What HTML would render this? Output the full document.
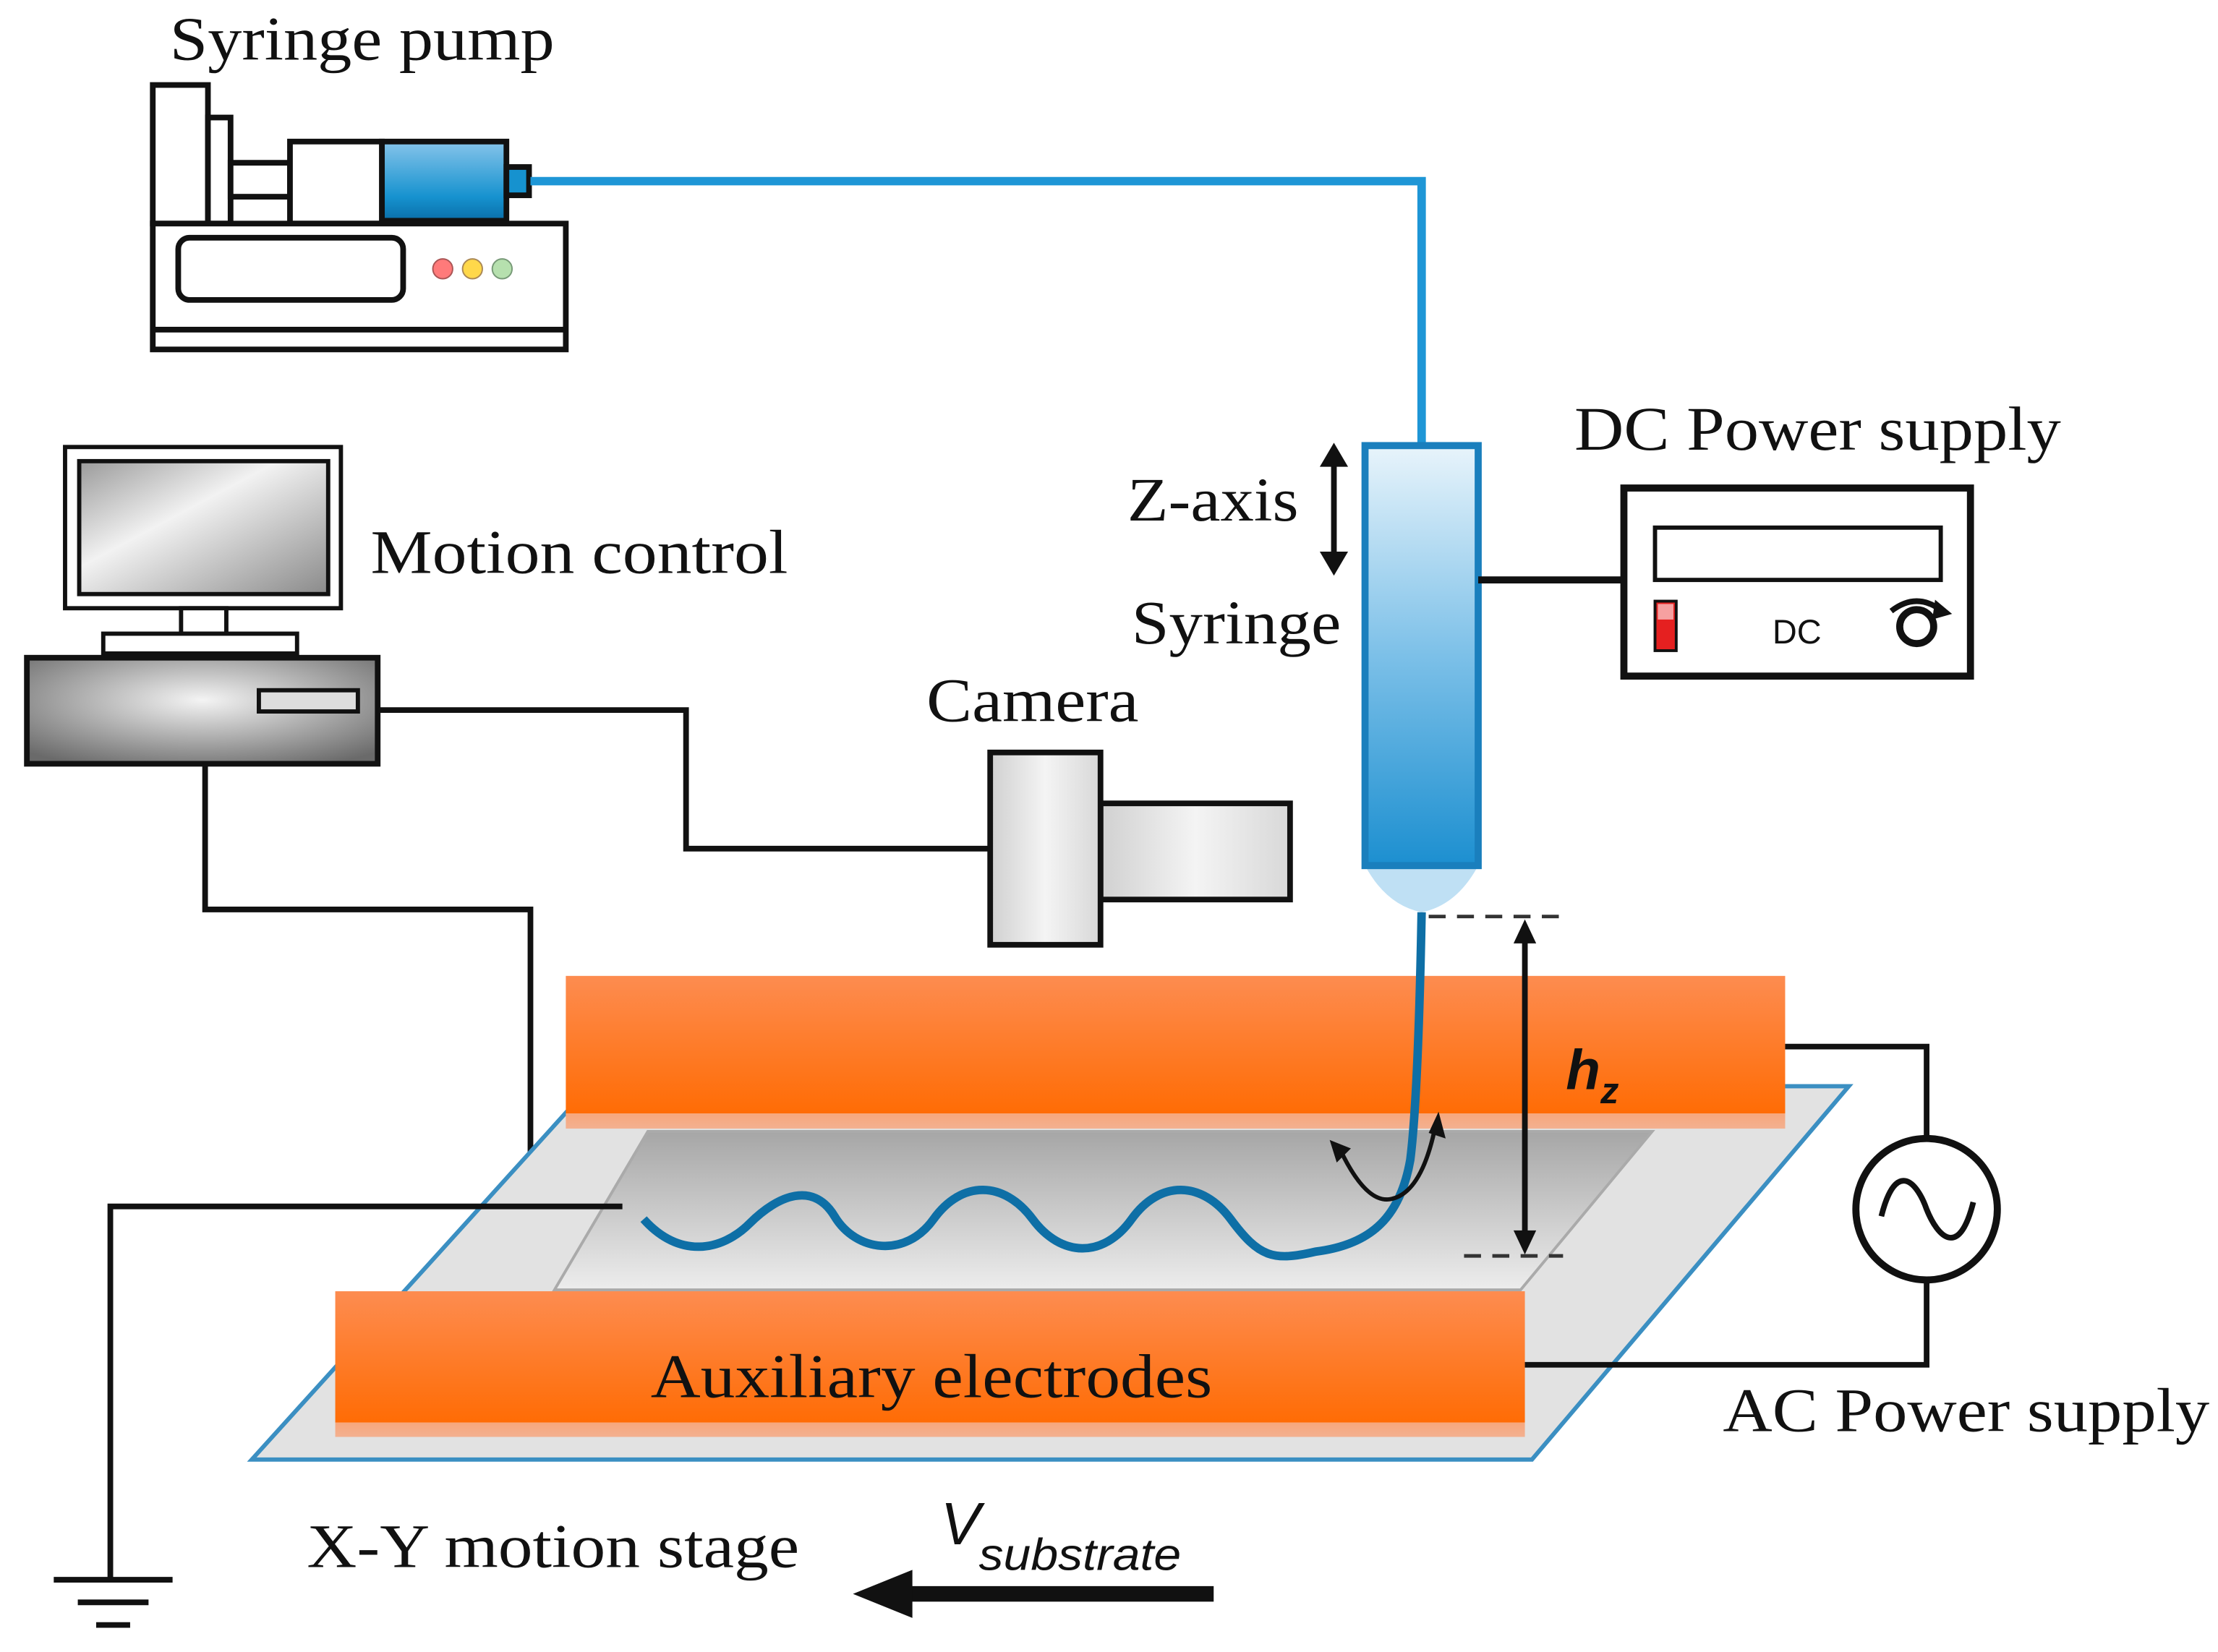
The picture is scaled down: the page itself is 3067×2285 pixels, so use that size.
<!DOCTYPE html>
<html><head><meta charset="utf-8"><style>html,body{margin:0;padding:0;background:#fff;}svg{display:block;}</style></head>
<body>
<svg width="3067" height="2285" viewBox="0 0 1568 1168" xmlns="http://www.w3.org/2000/svg">
<defs>
<linearGradient id="blu" x1="0" y1="0" x2="0" y2="1"><stop offset="0" stop-color="#86c4ea"/><stop offset="0.7" stop-color="#1692cf"/><stop offset="1" stop-color="#0a6ea8"/></linearGradient>
<linearGradient id="syr" x1="0" y1="0" x2="0" y2="1"><stop offset="0" stop-color="#e8f4fb"/><stop offset="0.5" stop-color="#7cc0e8"/><stop offset="1" stop-color="#1c8fd0"/></linearGradient>
<linearGradient id="org" x1="0" y1="0" x2="0" y2="1"><stop offset="0" stop-color="#fd8c50"/><stop offset="0.9" stop-color="#ff6c05"/><stop offset="0.9" stop-color="#f7a77c"/><stop offset="1" stop-color="#f3b090"/></linearGradient>
<linearGradient id="scr" x1="0" y1="0" x2="1" y2="1"><stop offset="0" stop-color="#9a9a9a"/><stop offset="0.4" stop-color="#f2f2f2"/><stop offset="1" stop-color="#8a8a8a"/></linearGradient>
<radialGradient id="cpu" cx="0.5" cy="0.4" r="0.7"><stop offset="0" stop-color="#f4f4f4"/><stop offset="1" stop-color="#6a6a6a"/></radialGradient>
<linearGradient id="sub" x1="0" y1="0" x2="0" y2="1"><stop offset="0" stop-color="#a6a6a6"/><stop offset="1" stop-color="#ededed"/></linearGradient>
<linearGradient id="cam" x1="0" y1="0" x2="1" y2="0"><stop offset="0" stop-color="#d0d0d0"/><stop offset="0.5" stop-color="#f4f4f4"/><stop offset="1" stop-color="#d8d8d8"/></linearGradient>
</defs>
<g font-family="Liberation Serif, serif" fill="#111" font-size="44" lengthAdjust="spacingAndGlyphs">
<text x="120" y="42" textLength="272" lengthAdjust="spacingAndGlyphs">Syringe pump</text>
<text x="262" y="405" textLength="295" lengthAdjust="spacingAndGlyphs">Motion control</text>
<text x="655" y="510" textLength="150" lengthAdjust="spacingAndGlyphs">Camera</text>
<text x="797" y="368" textLength="121" lengthAdjust="spacingAndGlyphs">Z-axis</text>
<text x="800" y="455" textLength="148" lengthAdjust="spacingAndGlyphs">Syringe</text>
<text x="1113" y="318" textLength="344" lengthAdjust="spacingAndGlyphs">DC Power supply</text>
<text x="1218" y="1012" textLength="344" lengthAdjust="spacingAndGlyphs">AC Power supply</text>
<text x="217" y="1108" textLength="348" lengthAdjust="spacingAndGlyphs">X-Y motion stage</text>
</g>
<!-- syringe pump -->
<g stroke="#111" stroke-width="4" fill="#fff">
<rect x="108" y="60" width="39" height="98"/>
<rect x="147" y="83" width="16" height="75"/>
<rect x="163" y="115" width="42" height="24"/>
<rect x="205" y="100" width="65" height="58"/>
<rect x="270" y="100" width="88" height="56" fill="url(#blu)"/>
<rect x="358" y="118" width="16" height="20" fill="#1692cf"/>
<rect x="108" y="158" width="292" height="89"/>
<line x1="108" y1="233" x2="400" y2="233"/>
<rect x="126" y="168" width="159" height="44" rx="8"/>
</g>
<circle cx="313" cy="190" r="7" fill="#ff7a7a" stroke="#a55" stroke-width="1"/>
<circle cx="334" cy="190" r="7" fill="#ffd84a" stroke="#a85" stroke-width="1"/>
<circle cx="355" cy="190" r="7" fill="#b6e0ae" stroke="#797" stroke-width="1"/>
<path d="M375,128 H1005 V315" fill="none" stroke="#1e96d6" stroke-width="6"/>
<!-- syringe -->
<path d="M965,612 H1045 Q1030,640 1005,645 Q980,640 965,612Z" fill="#bfe0f4"/>
<rect x="965" y="315" width="80" height="297" fill="url(#syr)" stroke="#1a7fbd" stroke-width="5"/>
<!-- z axis arrow -->
<line x1="943" y1="325" x2="943" y2="395" stroke="#111" stroke-width="4"/>
<path d="M933,330 L943,313 L953,330Z M933,390 L943,407 L953,390Z" fill="#111"/>
<!-- DC supply -->
<line x1="1045" y1="410" x2="1148" y2="410" stroke="#111" stroke-width="5"/>
<rect x="1148" y="345" width="245" height="133" fill="#fff" stroke="#111" stroke-width="5"/>
<rect x="1170" y="373" width="202" height="37" fill="#fff" stroke="#111" stroke-width="3"/>
<rect x="1170" y="425" width="15" height="35" fill="#e52020" stroke="#111" stroke-width="2"/>
<rect x="1172" y="427" width="11" height="11" fill="#f6a0a0"/>
<text x="1253" y="455" font-family="Liberation Sans, sans-serif" font-size="24" fill="#111">DC</text>
<circle cx="1355" cy="443" r="12" fill="none" stroke="#111" stroke-width="5"/>
<path d="M1337,432 Q1355,418 1373,432" fill="none" stroke="#111" stroke-width="4"/>
<path d="M1368,424 L1380,434 L1366,438Z" fill="#111"/>
<!-- computer -->
<rect x="46" y="316" width="195" height="114" fill="#fff" stroke="#111" stroke-width="3"/>
<rect x="56" y="326" width="176" height="94" fill="url(#scr)" stroke="#111" stroke-width="3"/>
<rect x="128" y="430" width="32" height="18" fill="#fff" stroke="#111" stroke-width="3"/>
<rect x="73" y="448" width="137" height="14" fill="#fff" stroke="#111" stroke-width="3"/>
<rect x="19" y="465" width="248" height="75" fill="url(#cpu)" stroke="#111" stroke-width="4"/>
<rect x="183" y="488" width="70" height="15" fill="#ddd" stroke="#111" stroke-width="3"/>
<g fill="none" stroke="#111" stroke-width="4">
<path d="M267,502 H485 V600 H700"/>
<path d="M145,540 V643 H375 V815"/>
</g>
<!-- camera -->
<rect x="778" y="568" width="134" height="68" fill="url(#cam)" stroke="#111" stroke-width="4"/>
<rect x="700" y="532" width="78" height="136" fill="url(#cam)" stroke="#111" stroke-width="4"/>
<!-- substrate -->
<polygon points="178,1032 417,768 1307,768 1083,1032" fill="#e2e2e2" stroke="#3b8fc2" stroke-width="3"/>
<polygon points="392,912 458,800 1168,800 1075,912" fill="url(#sub)" stroke="#aaa" stroke-width="2"/>
<!-- top electrode -->
<rect x="400" y="690" width="862" height="108" fill="url(#org)"/>
<!-- wave and jet -->
<path d="M455,862 C480,890 510,885 530,865 S575,835 590,860 S640,890 660,862 S710,835 730,862 S780,890 800,862 S850,835 870,862 S900,892 930,885 C970,880 990,860 997,820 C1002,780 1004,700 1005,645" fill="none" stroke="#0e6fa6" stroke-width="6"/>
<!-- curved arrows -->
<path d="M947,812 Q965,850 982,848 Q1005,845 1015,795" fill="none" stroke="#111" stroke-width="3"/>
<path d="M940,806 L955,812 L945,822Z M1017,786 L1022,805 L1010,801Z" fill="#111"/>
<!-- hz -->
<g stroke="#333" stroke-width="2.5" stroke-dasharray="12,8"><line x1="1010" y1="648" x2="1110" y2="648"/><line x1="1035" y1="888" x2="1105" y2="888"/></g>
<line x1="1078" y1="662" x2="1078" y2="875" stroke="#111" stroke-width="4"/>
<path d="M1070,667 L1078,650 L1086,667Z M1070,870 L1078,887 L1086,870Z" fill="#111"/>
<text x="1107" y="770" font-family="Liberation Sans, sans-serif" font-weight="bold" font-style="italic" font-size="40" fill="#111">h<tspan font-size="26" dy="10">z</tspan></text>
<!-- bottom electrode -->
<rect x="237" y="913" width="841" height="103" fill="url(#org)"/>
<text x="460" y="988" font-family="Liberation Serif, serif" font-size="44" fill="#111" textLength="397" lengthAdjust="spacingAndGlyphs">Auxiliary electrodes</text>
<!-- AC circuit -->
<g fill="none" stroke="#111" stroke-width="4">
<path d="M1262,740 H1362 V805"/>
<path d="M1362,905 V965 H1078"/>
<circle cx="1362" cy="855" r="50" stroke-width="5"/>
<path d="M1330,860 C1340,820 1355,835 1362,855 C1370,875 1385,890 1395,850" stroke-width="4"/>
</g>
<!-- ground -->
<g fill="none" stroke="#111" stroke-width="4">
<path d="M440,853 H78 V1117"/>
<line x1="38" y1="1117" x2="122" y2="1117"/>
<line x1="55" y1="1133" x2="105" y2="1133"/>
<line x1="68" y1="1149" x2="92" y2="1149"/>
</g>
<!-- velocity arrow -->
<line x1="640" y1="1127" x2="858" y2="1127" stroke="#111" stroke-width="11"/>
<path d="M603,1127 L645,1110 L645,1144Z" fill="#111"/>
<text x="665" y="1092" font-family="Liberation Sans, sans-serif" font-style="italic" font-size="42" fill="#111">V</text>
<text x="692" y="1110" font-family="Liberation Sans, sans-serif" font-style="italic" font-size="32" fill="#111" textLength="143" lengthAdjust="spacingAndGlyphs">substrate</text>
</svg>
</body></html>
